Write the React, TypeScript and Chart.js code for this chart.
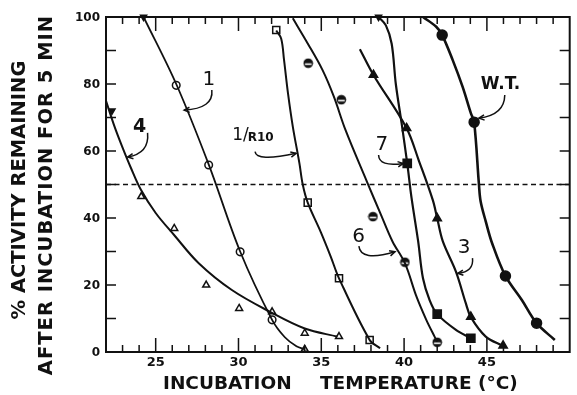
import React, { useEffect, useRef } from 'react';
import { Chart, registerables } from 'chart.js';

Chart.register(...registerables);

// ---------- axes ----------
const X_MIN = 22;
const X_MAX = 50;
const Y_MIN = 0;
const Y_MAX = 100;
const xTickLabels = [25, 30, 35, 40, 45];
const yTickLabels = [0, 20, 40, 60, 80, 100];
const xMinorStep = 1;
const yMinorStep = 10;
const referenceLevel = 50;

const yTitleLines = ['% ACTIVITY REMAINING', 'AFTER INCUBATION FOR 5 MIN'];
const xTitleWords = ['INCUBATION', 'TEMPERATURE (°C)'];

// ---------- series (x = °C, y = % activity) ----------
// mutant 1 (open circles)
const curve1: number[][] = [[24.27, 100], [26.24, 80], [28.2, 56], [30.1, 30], [32.03, 9.6], [32.8, 4.4], [33.5, 1.7], [34.0, 0.8]];
const marks1: number[][] = [[26.24, 79.6], [28.2, 55.8], [30.1, 29.9], [32.03, 9.6]];
const marks1End: number[][] = [[34.0, 0.8]];

// mutant 4 (open triangles)
const curve4: number[][] = [[22, 75], [22.5, 67.5], [23, 61], [23.5, 55], [24.1, 48.5], [25, 41.5], [26.1, 35], [27.6, 26.5], [29.6, 18.5], [31.9, 12], [34, 7], [35.97, 4.6]];
const marks4: number[][] = [[24.13, 46.4], [26.12, 36.9], [28.05, 20], [30.04, 13], [32.03, 12], [34.0, 5.6], [36.07, 4.6]];

// 1/R10 (open squares)
const curveR10: number[][] = [[32.28, 96], [32.58, 93.5], [32.75, 87.2], [32.99, 77.2], [33.28, 67.3], [33.68, 56.3], [33.88, 50], [34.18, 44.6], [34.97, 35.8], [35.57, 28.5], [36.07, 22], [37.92, 3.6], [38.55, 1.1]];
const marksR10: number[][] = [[32.28, 96.1], [34.18, 44.6], [36.07, 22], [37.92, 3.6]];

// mutant 6 (half-filled circles)
const curve6: number[][] = [[33.28, 99.6], [34.18, 92.1], [35.07, 84.2], [35.76, 76.2], [36.46, 66.3], [37.76, 50.8], [38.6, 41], [39.3, 33], [40.05, 26.5], [40.75, 16.5], [41.34, 9.6], [41.84, 4.6], [42.0, 3.1]];
const marks6: number[][] = [[34.21, 86.2], [36.21, 75.3], [38.12, 40.4], [40.05, 26.8], [42.0, 2.9]];

// mutant 7 (filled squares)
const curve7: number[][] = [[38.46, 100], [38.9, 97.5], [39.25, 92], [39.5, 80], [39.85, 68.3], [40.19, 56.3], [40.45, 46], [40.85, 33], [41.14, 22], [41.54, 15.5], [42.0, 11.3], [43.13, 6.6], [44.03, 4.1]];
const marks7: number[][] = [[40.19, 56.3], [42.0, 11.3], [44.03, 4.1]];

// mutant 3 (filled triangles)
const curve3: number[][] = [[37.33, 90.4], [38.15, 82.7], [40.15, 66.8], [40.9, 57], [41.73, 45.4], [42.0, 39.9], [42.34, 33], [43.13, 24], [43.73, 14.5], [44.03, 10.4], [44.93, 4.6], [45.98, 1.8]];
const marks3: number[][] = [[38.15, 82.7], [40.15, 66.8], [42.0, 39.9], [44.03, 10.5], [45.98, 1.9]];

// wild type (filled circles)
const curveWT: number[][] = [[41.14, 100], [41.94, 97.1], [42.3, 94.6], [42.93, 87.2], [43.53, 79.2], [44.03, 71.3], [44.23, 68.6], [44.52, 50], [44.62, 45], [44.93, 39], [45.32, 32.4], [46.12, 22.7], [47.11, 15.5], [48.0, 8.6], [49.1, 3.6]];
const marksWT: number[][] = [[42.3, 94.6], [44.23, 68.6], [46.12, 22.7], [48.0, 8.6]];

// small arrow-tips where curves meet the frame
const tips: number[][] = [[24.27, 100], [38.46, 100], [22.36, 72]];

// ---------- annotations (data coordinates) ----------
const labelTexts = ['1', '4', '1/R10', '6', '7', '3', 'W.T.'];
const labelPos: number[][] = [[28.21, 81.2], [24.03, 67.2], [30.9, 64.2], [37.26, 34.4], [38.66, 61.8], [43.63, 31.0], [45.82, 79.7]];
const arrowFrom: number[][] = [[28.39, 78.2], [24.51, 65.4], [31.0, 59.8], [37.27, 31.6], [38.46, 58.8], [44.13, 28.0], [46.08, 76.7]];
const arrowCtrl: number[][] = [[28.51, 72.7], [24.63, 59.3], [31.07, 56.7], [37.37, 26.9], [38.48, 55.2], [44.23, 24.0], [46.06, 70.7]];
const arrowTo: number[][] = [[26.72, 72.2], [23.31, 58.2], [33.48, 59.3], [39.45, 29.9], [39.95, 56.3], [43.24, 23.5], [44.52, 69.8]];

const toXY = (a: number[][]) => a.map(([x, y]) => ({ x, y }));
const FONT = '"DejaVu Sans", "Liberation Sans", sans-serif';
const INK = '#111';

function halfCircleStyle(): HTMLCanvasElement {
  const c = document.createElement('canvas');
  c.width = 11; c.height = 11;
  const g = c.getContext('2d')!;
  g.fillStyle = INK;
  g.beginPath(); g.arc(5.5, 5.5, 4.8, 0, Math.PI * 2); g.fill();
  g.fillStyle = '#fff';
  g.fillRect(2.2, 5.6, 6.6, 1.6);
  return c;
}

function lineSet(d: number[][], width = 2) {
  return {
    data: toXY(d), showLine: true, borderColor: INK, borderWidth: width,
    pointRadius: 0, tension: 0.35, fill: false,
  };
}

function markSet(d: number[][], style: any, radius: number, filled: boolean, rotation = 0) {
  return {
    data: toXY(d), showLine: false, pointStyle: style, pointRadius: radius, pointRotation: rotation,
    pointBackgroundColor: filled ? INK : '#fff', pointBorderColor: INK, pointBorderWidth: 1.5,
    clip: false as any,
  };
}

const decor = {
  id: 'decor',
  beforeDatasetsDraw(chart: any) {
    const { ctx, chartArea, scales } = chart;
    const yp = scales.y.getPixelForValue(referenceLevel);
    ctx.save();
    ctx.setLineDash([5, 3.5]);
    ctx.lineWidth = 1.5;
    ctx.strokeStyle = INK;
    ctx.beginPath(); ctx.moveTo(chartArea.left, yp); ctx.lineTo(chartArea.right, yp); ctx.stroke();
    ctx.restore();
  },
  afterDraw(chart: any) {
    const { ctx, chartArea, scales } = chart;
    const { left, right, top, bottom } = chartArea;
    const xs = scales.x, ys = scales.y;
    ctx.save();
    ctx.strokeStyle = INK;
    ctx.fillStyle = INK;
    ctx.lineWidth = 2;
    ctx.strokeRect(left, top, right - left, bottom - top);
    ctx.lineWidth = 1.5;
    ctx.beginPath();
    for (let v = X_MIN + xMinorStep; v < X_MAX; v += xMinorStep) {
      const px = xs.getPixelForValue(v);
      const len = xTickLabels.includes(v) ? 14 : 7;
      ctx.moveTo(px, bottom); ctx.lineTo(px, bottom - len);
      ctx.moveTo(px, top); ctx.lineTo(px, top + len);
    }
    for (let v = Y_MIN + yMinorStep; v < Y_MAX; v += yMinorStep) {
      const py = ys.getPixelForValue(v);
      ctx.moveTo(left, py); ctx.lineTo(left + 10, py);
      ctx.moveTo(right, py); ctx.lineTo(right - 10, py);
    }
    ctx.stroke();

    // tick labels
    ctx.font = `bold 13px ${FONT}`;
    ctx.textAlign = 'center';
    ctx.textBaseline = 'middle';
    xTickLabels.forEach((v) => ctx.fillText(String(v), xs.getPixelForValue(v), bottom + 11));
    ctx.font = `bold 12px ${FONT}`;
    ctx.textAlign = 'right';
    yTickLabels.forEach((v) => ctx.fillText(String(v), left - 6, ys.getPixelForValue(v) + 1));

    // axis titles
    ctx.font = `bold 18.5px ${FONT}`;
    ctx.textAlign = 'left';
    ctx.textBaseline = 'middle';
    ctx.fillText(xTitleWords[0], 163, 384);
    ctx.fillText(xTitleWords[1], 320, 384);
    ctx.save();
    ctx.rotate(-Math.PI / 2);
    ctx.textAlign = 'center';
    ctx.font = `bold 19.5px ${FONT}`;
    ctx.fillText(yTitleLines[0], -190, 20);
    (ctx as any).letterSpacing = '1px';
    ctx.fillText(yTitleLines[1], -195, 47);
    (ctx as any).letterSpacing = '0px';
    ctx.restore();

    // curve labels + arrows
    labelTexts.forEach((t, i) => {
      const lx = xs.getPixelForValue(labelPos[i][0]);
      const ly = ys.getPixelForValue(labelPos[i][1]);
      ctx.textAlign = 'center';
      ctx.textBaseline = 'middle';
      if (t === '1/R10') {
        const a = '1/';
        ctx.font = `17px ${FONT}`;
        const wa = ctx.measureText(a).width;
        ctx.font = `bold 12px ${FONT}`;
        const wb = ctx.measureText('R10').width;
        const x0 = lx - (wa + wb) / 2;
        ctx.textAlign = 'left';
        ctx.font = `17px ${FONT}`;
        ctx.fillText(a, x0, ly - 1);
        ctx.font = `bold 12px ${FONT}`;
        ctx.fillText('R10', x0 + wa - 1, ly + 1);
      } else if (t === 'W.T.') {
        ctx.font = `bold 17px ${FONT}`;
        ctx.fillText(t, lx, ly);
      } else if (t === '4') {
        ctx.font = `bold 19px ${FONT}`;
        ctx.fillText(t, lx, ly);
      } else {
        ctx.font = `20px ${FONT}`;
        ctx.fillText(t, lx, ly);
      }
      const fx = xs.getPixelForValue(arrowFrom[i][0]), fy = ys.getPixelForValue(arrowFrom[i][1]);
      const cx = xs.getPixelForValue(arrowCtrl[i][0]), cy = ys.getPixelForValue(arrowCtrl[i][1]);
      const tx = xs.getPixelForValue(arrowTo[i][0]), ty = ys.getPixelForValue(arrowTo[i][1]);
      ctx.lineWidth = 1.5;
      ctx.beginPath();
      ctx.moveTo(fx, fy);
      ctx.quadraticCurveTo(cx, cy, tx, ty);
      ctx.stroke();
      const ang = Math.atan2(ty - cy, tx - cx);
      const hl = 6;
      ctx.beginPath();
      ctx.moveTo(tx - hl * Math.cos(ang - 0.45), ty - hl * Math.sin(ang - 0.45));
      ctx.lineTo(tx, ty);
      ctx.lineTo(tx - hl * Math.cos(ang + 0.45), ty - hl * Math.sin(ang + 0.45));
      ctx.stroke();
    });
    ctx.restore();
  },
};

export default function App() {
  const ref = useRef<HTMLCanvasElement | null>(null);
  useEffect(() => {
    document.body.style.margin = '0';
    const half = halfCircleStyle();
    const chart = new Chart(ref.current!, {
      type: 'scatter',
      data: {
        datasets: [
          lineSet(curve1, 1.8),
          lineSet(curve4, 2),
          lineSet(curveR10, 2),
          lineSet(curve6, 2),
          lineSet(curve7, 2.2),
          lineSet(curve3, 2.2),
          lineSet(curveWT, 2.6),
          markSet(marks1, 'circle', 3.8, false),
          markSet(marks1End, 'triangle', 4, false),
          markSet(marks4, 'triangle', 4, false),
          markSet(marksR10, 'rect', 5, false),
          markSet(marks6, half, 5, true),
          markSet(marks7, 'rect', 5.8, true),
          markSet(marks3, 'triangle', 4.8, true),
          markSet(marksWT, 'circle', 5, true),
          markSet(tips, 'triangle', 3.5, true, 180),
        ] as any,
      },
      options: {
        responsive: false,
        animation: false,
        devicePixelRatio: 1,
        layout: { padding: { left: 106, right: 2, top: 17, bottom: 43 } },
        scales: {
          x: { type: 'linear', min: X_MIN, max: X_MAX, display: false },
          y: { type: 'linear', min: Y_MIN, max: Y_MAX, display: false },
        },
        plugins: { legend: { display: false }, tooltip: { enabled: false } },
      },
      plugins: [decor],
    });
    return () => chart.destroy();
  }, []);
  return (
    <div style={{ position: 'absolute', left: 0, top: 0, width: 577, height: 395, background: '#fff' }}>
      <canvas ref={ref} width={577} height={395} style={{ display: 'block' }} />
    </div>
  );
}
